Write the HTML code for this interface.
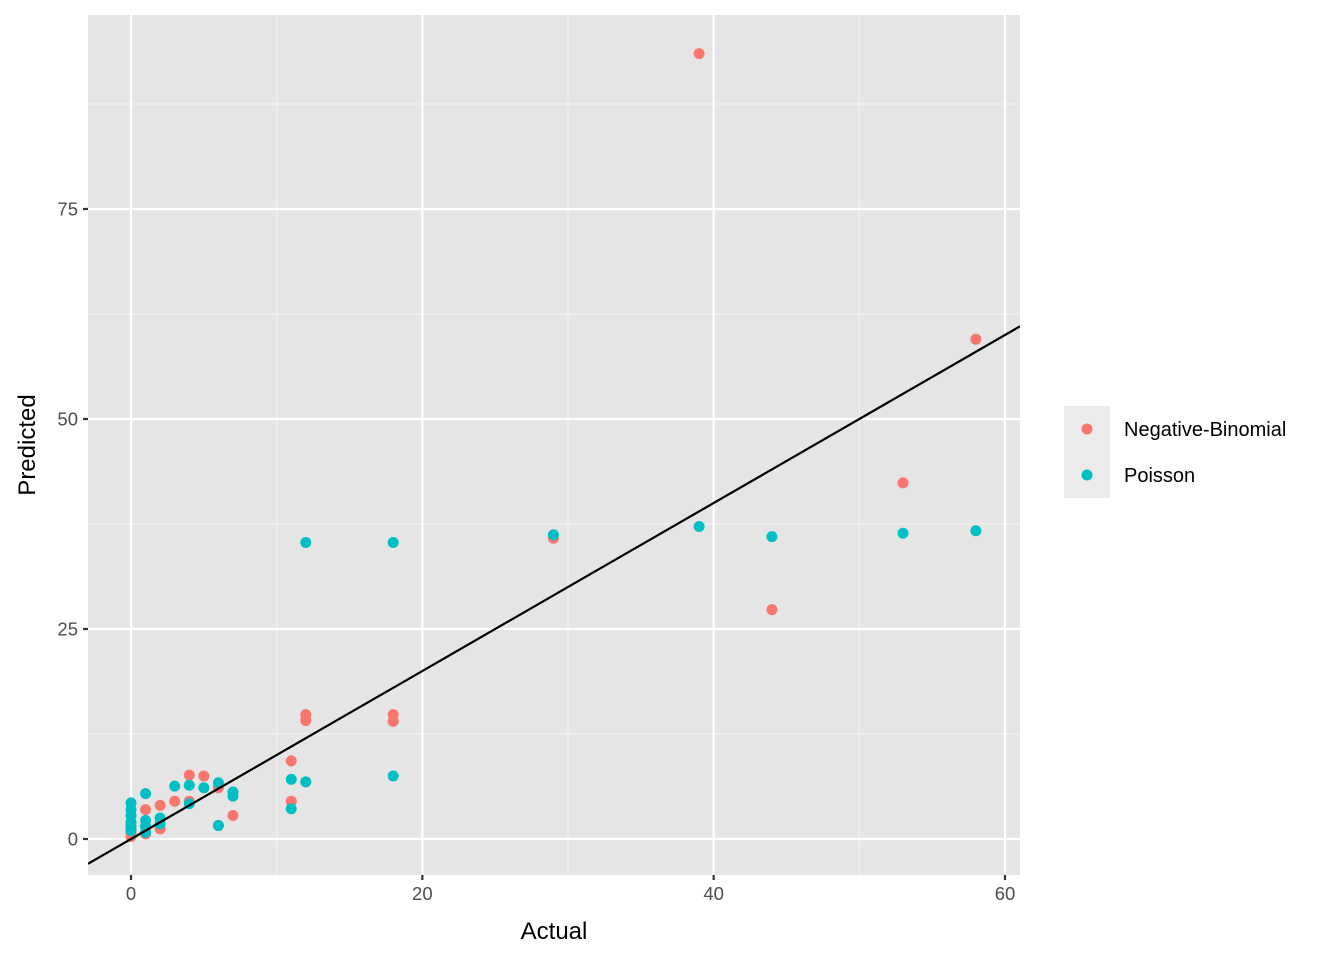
<!DOCTYPE html>
<html><head><meta charset="utf-8"><style>
body{margin:0;background:#fff;font-family:"Liberation Sans",Arial,sans-serif}
</style></head><body>
<svg id="chart" width="1344" height="960" xmlns="http://www.w3.org/2000/svg"></svg>
<script>
const nbX=[0,0,0,1,1,2,2,3,4,4,5,6,6,7,11,11,12,12,18,18,29,39,44,53,58];
const nbY=[0.3,0.8,1.2,3.5,0.6,4.0,1.2,4.5,7.6,4.5,7.5,6.1,1.6,2.8,9.3,4.5,14.8,14.1,14.8,14.0,35.8,93.5,27.3,42.4,59.5];
const poX=[0,0,0,0,0,0,1,1,1,1,2,2,3,4,4,5,6,6,7,7,11,11,12,12,18,18,29,39,44,53,58];
const poY=[4.3,3.5,2.8,2.0,1.5,1.0,5.4,2.2,1.5,0.8,2.5,1.8,6.3,6.4,4.2,6.1,6.7,1.6,5.6,5.1,7.1,3.6,35.3,6.8,35.3,7.5,36.2,37.2,36.0,36.4,36.7];
const xTicks=[0,20,40,60];
const yTicks=[0,25,50,75];
const L=88,R=1020,T=15,B=875;
const sx=v=>131+v*(1005-131)/60;
const sy=v=>839-v*8.4;
const xMin=(L-131)/((1005-131)/60), xMax=(R-131)/((1005-131)/60);
const svg=document.getElementById('chart');
const NS='http://www.w3.org/2000/svg';
function mk(t,a,p){const e=document.createElementNS(NS,t);for(const k in a)e.setAttribute(k,a[k]);(p||svg).appendChild(e);return e;}
const bg=mk('rect',{x:L,y:T,width:R-L,height:B-T,fill:'#e5e5e5'});


for(let v=-10;v<=70;v+=20){const x=sx(v);if(x>L&&x<R){const g=mk('line',{x1:x,x2:x,y1:T,y2:B,stroke:'#f2f2f2','stroke-width':1.1});}}
for(let v=12.5;v<100;v+=25){const y=sy(v);if(y>T&&y<B){const g=mk('line',{x1:L,x2:R,y1:y,y2:y,stroke:'#f2f2f2','stroke-width':1.1});}}
xTicks.forEach(v=>{const x=sx(v);
const g=mk('line',{x1:x,x2:x,y1:T,y2:B,stroke:'#fff','stroke-width':2.2});
const tk=mk('line',{x1:x,x2:x,y1:B,y2:B+5,stroke:'#333','stroke-width':2.2});
const t=mk('text',{x:x,y:B+25,'text-anchor':'middle','font-size':18.5,fill:'#4d4d4d'});t.textContent=v;});
yTicks.forEach(v=>{const y=sy(v);
const g=mk('line',{x1:L,x2:R,y1:y,y2:y,stroke:'#fff','stroke-width':2.2});
const tk=mk('line',{x1:L-5,x2:L,y1:y,y2:y,stroke:'#333','stroke-width':2.2});
const t=mk('text',{x:L-10,y:y+6.5,'text-anchor':'end','font-size':18.5,fill:'#4d4d4d'});t.textContent=v;});
const clip=mk('clipPath',{id:'c'});mk('rect',{x:L,y:T,width:R-L,height:B-T},clip);
const gp=mk('g',{'clip-path':'url(#c)'});
nbX.forEach((x,i)=>{const c=mk('circle',{cx:sx(x),cy:sy(nbY[i]),r:5.5,fill:'#f8766d'},gp);});
poX.forEach((x,i)=>{const c=mk('circle',{cx:sx(x),cy:sy(poY[i]),r:5.5,fill:'#00bfc4'},gp);});
const ln=mk('line',{x1:sx(xMin),y1:sy(xMin),x2:sx(xMax),y2:sy(xMax),stroke:'#000','stroke-width':2.2},gp);

const xt=mk('text',{x:(L+R)/2,y:939,'text-anchor':'middle','font-size':24,fill:'#000'});xt.textContent='Actual';
const yt=mk('text',{x:0,y:0,'text-anchor':'middle','font-size':24,fill:'#000',transform:'translate(35,445) rotate(-90)'});yt.textContent='Predicted';
const lg=mk('rect',{x:1064,y:406,width:46,height:92,fill:'#ebebeb'});
[['Negative-Binomial','#f8766d',429],['Poisson','#00bfc4',475]].forEach(([n,c,y])=>{
const d=mk('circle',{cx:1087,cy:y,r:5.5,fill:c});
const t=mk('text',{x:1124,y:y+7,'font-size':20,fill:'#000'});t.textContent=n;});
</script>
</body></html>
